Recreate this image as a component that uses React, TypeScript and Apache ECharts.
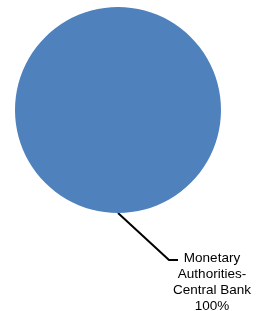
import React, { useEffect, useRef } from "react";
import * as echarts from "echarts";

const categories: string[] = ["Monetary\nAuthorities-\nCentral Bank"];
const values: number[] = [100];
const colors: string[] = ["#4F81BD"];

export default function App() {
  const ref = useRef<HTMLDivElement>(null);
  useEffect(() => {
    if (!ref.current) return;
    const chart = echarts.init(ref.current, null, { renderer: "svg" });
    const total = values.reduce((a, b) => a + b, 0);
    chart.setOption({
      animation: false,
      series: [
        {
          type: "pie",
          center: [118, 110],
          radius: 103,
          startAngle: 90,
          silent: true,
          data: categories.map((c, i) => ({
            name: c,
            value: values[i],
            itemStyle: { color: colors[i] },
          })),
          label: {
            show: true,
            position: "outside",
            formatter: (p: any) => `${p.name}\n${Math.round((p.value / total) * 100)}%`,
            fontFamily: "Liberation Sans, Arial, sans-serif",
            fontSize: 13.5,
            lineHeight: 16,
            color: "#000",
            align: "center",
          },
          labelLine: {
            show: true,
            length: 10,
            length2: 10,
            lineStyle: { color: "#000", width: 2 },
          },
          labelLayout: (params: any) => {
            const pts = params.labelLinePoints;
            const s = pts ? pts[0] : [118, 213];
            const m = [s[0] + 51, s[1] + 47];
            const e = [m[0] + 9, m[1]];
            return {
              x: e[0] + 34,
              y: e[1] + 21,
              align: "center",
              verticalAlign: "middle",
              labelLinePoints: [s, m, e],
            };
          },
        },
      ],
    });
    return () => chart.dispose();
  }, []);
  return (
    <div
      ref={ref}
      style={{ position: "fixed", left: 0, top: 0, width: 256, height: 311 }}
    />
  );
}
